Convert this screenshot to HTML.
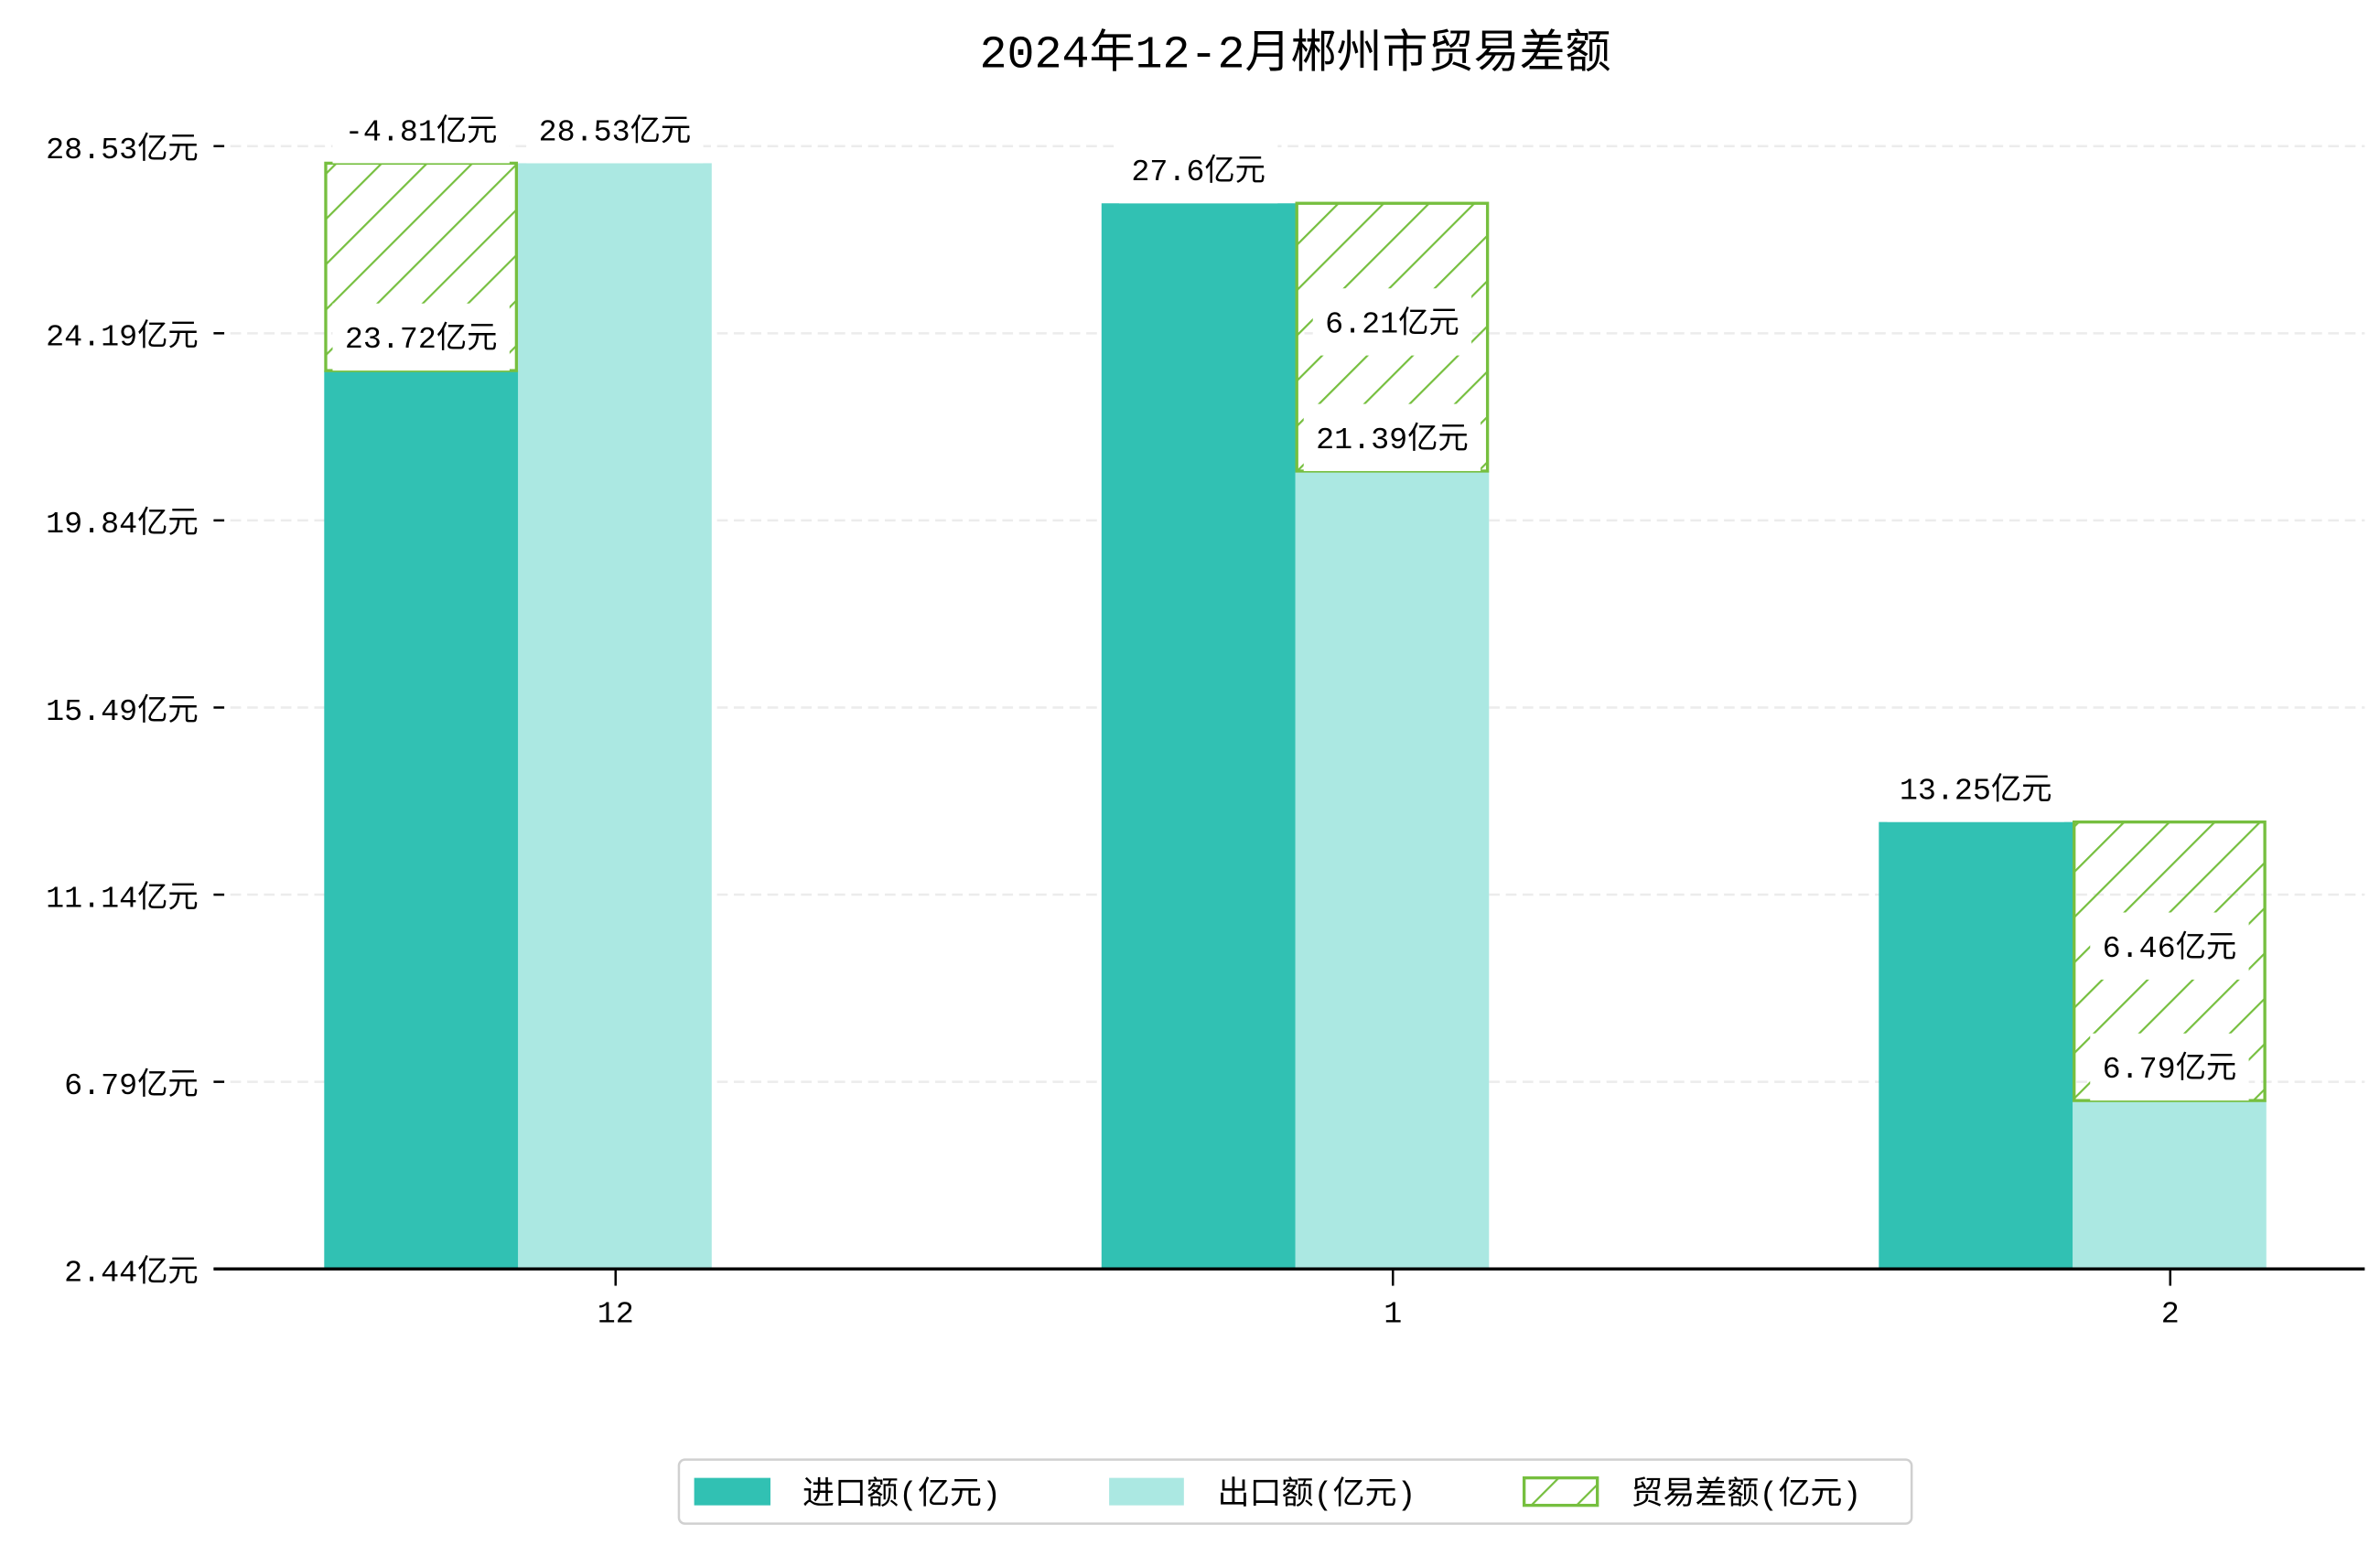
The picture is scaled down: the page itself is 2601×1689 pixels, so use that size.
<!DOCTYPE html>
<html><head><meta charset="utf-8">
<style>
html,body{margin:0;padding:0;background:#fff;}
svg{display:block;font-family:"Liberation Mono","Noto Sans CJK SC",monospace;}
</style></head>
<body>
<svg id="chart" width="2601" height="1689" viewBox="0 0 1560 1013" xmlns="http://www.w3.org/2000/svg">
<defs>
<pattern id="hatch" width="21" height="21" patternUnits="userSpaceOnUse" patternTransform="rotate(45)">
<line x1="0" y1="0" x2="0" y2="21" stroke="#76bf3f" stroke-width="2.6"/>
</pattern>
</defs>
<text x="849" y="44" text-anchor="middle" font-size="30" fill="#000">2024年12-2月郴州市贸易差额</text>
<g id="grid"></g>
<g id="bars"></g>
<g id="labels"></g>
<g id="axes"></g>
<g>
<rect x="445" y="957" width="808" height="42" rx="4" fill="#fff" stroke="#d0d0d0" stroke-width="1.5"/>
<rect x="455" y="969" width="50" height="18" fill="#31c1b3"/>
<text x="526" y="986" font-size="21">进口额(亿元)</text>
<rect x="727" y="969" width="49" height="18" fill="#abe8e2"/>
<text x="798" y="986" font-size="21">出口额(亿元)</text>
<rect x="999" y="969" width="48" height="18" fill="url(#hatch)" stroke="#76bf3f" stroke-width="2"/>
<text x="1069" y="986" font-size="21">贸易差额(亿元)</text>
</g>
</svg>
<script>
const categories = ["12", "1", "2"];
const importValues = [23.72, 27.6, 13.25];
const exportValues = [28.53, 21.39, 6.79];
const balanceLabels = ["-4.81", "6.21", "6.46"];
const tickLabels = ["2.44", "6.79", "11.14", "15.49", "19.84", "24.19", "28.53"];

const NS = "http://www.w3.org/2000/svg";
const plotLeft = 140, plotRight = 1550, baseY = 832;
function yScale(v) { return 107 + (28.53 - v) * 28.27; }
function xCenter(i) { return 403.5 + i * 509.5; }
function tickY(i) { return baseY - i * 122.7; }
function mk(tag, attrs, parent) {
  const el = document.createElementNS(NS, tag);
  for (const k in attrs) el.setAttribute(k, attrs[k]);
  parent.appendChild(el);
  return el;
}
const grid = document.getElementById('grid');
const bars = document.getElementById('bars');
const labels = document.getElementById('labels');
const axes = document.getElementById('axes');

tickLabels.forEach((t, i) => {
  const y = tickY(i);
  if (i > 0) {
    const g = mk('line', {x1: plotLeft, x2: plotRight, y1: y, y2: y, stroke: '#ececec', 'stroke-width': 1.5, 'stroke-dasharray': '7,4'}, grid);
    
    
  }
  const tk = mk('line', {x1: plotLeft, x2: plotLeft + 7, y1: y, y2: y, stroke: '#000', 'stroke-width': 1.5}, axes);
  
  
  const tx = mk('text', {x: 130, y: y + 8, 'text-anchor': 'end', 'font-size': 20}, axes);
  tx.textContent = t + '亿元';
  
  
});
const ax = mk('line', {x1: plotLeft, x2: plotRight, y1: baseY, y2: baseY, stroke: '#000', 'stroke-width': 2}, axes);



function addLabel(text, cx, cy, name) {
  const t = mk('text', {x: cx, y: cy + 7, 'text-anchor': 'middle', 'font-size': 20}, labels);
  t.textContent = text;
  
  
  const b = t.getBBox();
  const r = document.createElementNS(NS, 'rect');
  r.setAttribute('x', b.x - 8); r.setAttribute('y', cy - 22);
  r.setAttribute('width', b.width + 16); r.setAttribute('height', 44);
  r.setAttribute('fill', '#fff');
  
  
  labels.insertBefore(r, t);
}

categories.forEach((c, i) => {
  const cx = xCenter(i);
  const ix = cx - 191, ex = cx - 64, w = 127;
  const iy = yScale(importValues[i]), ey = yScale(exportValues[i]);
  const ib = mk('rect', {x: ix, y: iy, width: w + 1, height: baseY - iy, fill: '#31c1b3'}, bars);
  
  
  const eb = mk('rect', {x: ex, y: ey, width: w, height: baseY - ey, fill: '#abe8e2'}, bars);
  
  
  const top = Math.min(iy, ey), bot = Math.max(iy, ey);
  const hx = iy > ey ? ix : ex;
  const hb = mk('rect', {x: hx + 1, y: top, width: w - 2, height: bot - top, fill: 'url(#hatch)', stroke: '#76bf3f', 'stroke-width': 2}, bars);
  
  
  const xt = mk('line', {x1: cx, x2: cx, y1: baseY, y2: baseY + 11, stroke: '#000', 'stroke-width': 1.5}, axes);
  
  
  const xl = mk('text', {x: cx, y: 867, 'text-anchor': 'middle', 'font-size': 20}, axes);
  xl.textContent = c;
  
  
  addLabel(importValues[i] + '亿元', ix + w / 2, iy - 22, 'import-value-label');
  addLabel(exportValues[i] + '亿元', ex + w / 2, ey - 22, 'export-value-label');
  const bl = balanceLabels[i];
  const by = bl.charAt(0) === '-' ? top - 22 : (top + bot) / 2 - 10;
  addLabel(bl + '亿元', hx + w / 2, by, 'balance-value-label');
});
</script>
</body></html>
